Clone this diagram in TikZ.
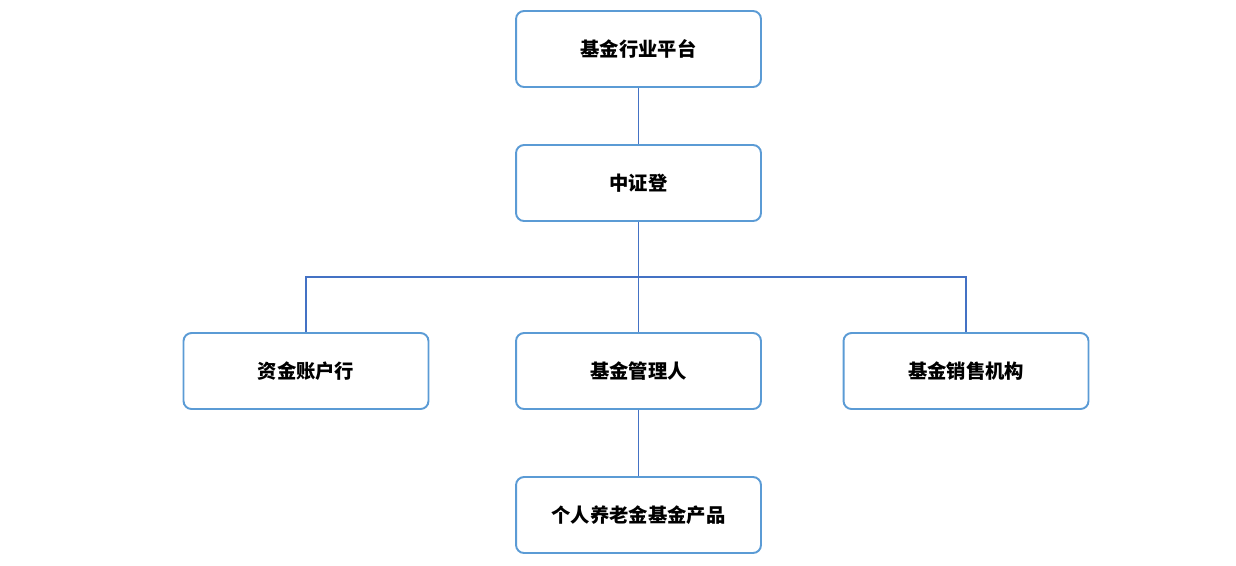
\documentclass[tikz,border=0pt]{standalone}
\usepackage{fontspec}
\newfontfamily\cjk{Noto Sans CJK SC}
\usetikzlibrary{positioning}
\definecolor{boxcolor}{RGB}{91,155,213}
\definecolor{linecolor}{RGB}{68,114,196}
\begin{document}
\begin{tikzpicture}[x=0.02cm,y=-0.02cm]
  % Styles
  \tikzset{
    box/.style={draw=boxcolor,line width=1.1pt,rounded corners=0.16cm,
      minimum width=4.9cm,minimum height=1.52cm,font=\cjk\bfseries\fontsize{11}{13}\selectfont},
    link/.style={draw=linecolor,line width=0.6pt}
  }
  \useasboundingbox (0,0) rectangle (1236,565);

  % Boxes
  \node[box] (platform) at (638.5,49) {基金行业平台};
  \node[box] (csdc) at (638.5,183) {中证登};
  \node[box] (bank) at (306,371) {资金账户行};
  \node[box] (manager) at (638.5,371) {基金管理人};
  \node[box] (sales) at (966,371) {基金销售机构};
  \node[box] (product) at (638.5,515) {个人养老金基金产品};

  % Connectors
  \coordinate (bus) at (638.5,277);
  \path[link] (platform) -- (csdc);
  \path[link] (csdc) -- (manager);
  \path[link] (bank.north) |- (bus) -| (sales.north);
  \path[link] (manager) -- (product);
\end{tikzpicture}
\end{document}
